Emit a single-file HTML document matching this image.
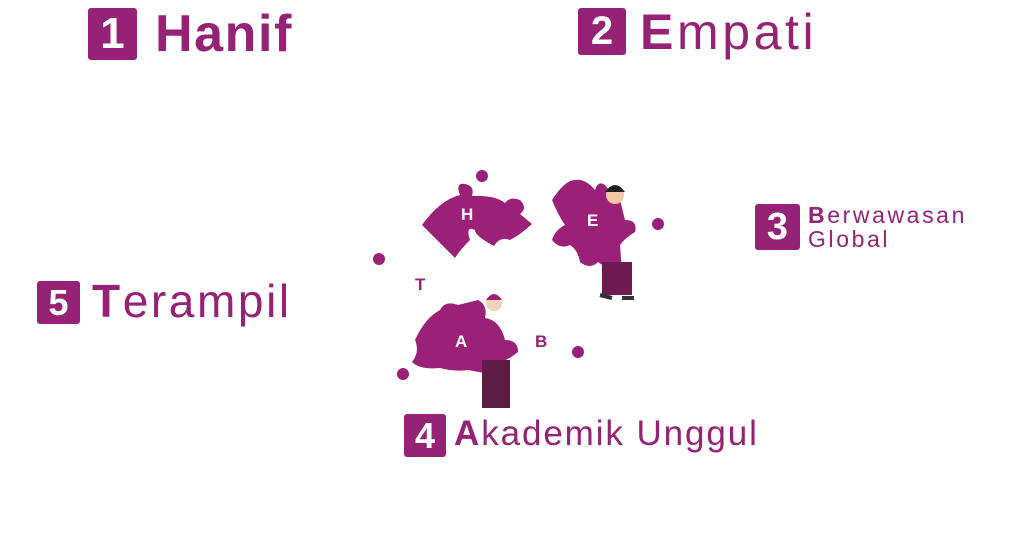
<!DOCTYPE html>
<html><head><meta charset="utf-8"><style>
body{margin:0;width:1024px;height:557px;background:#fff;position:relative;overflow:hidden;font-family:"Liberation Sans",sans-serif;color:#952274}
.b{position:absolute;background:#952274;color:#fff;font-weight:bold;text-align:center;border-radius:3px}
.t{position:absolute;white-space:nowrap;font-weight:bold}
.l{position:absolute;font-weight:bold;color:#fff}
</style></head><body>
<div class="b" style="left:88px;top:8px;width:49px;height:52px;font-size:44px;line-height:52px">1</div>
<div class="t" style="left:155px;top:4px;font-size:52px;line-height:60px;letter-spacing:1.6px">Hanif</div>
<div class="b" style="left:578px;top:8px;width:48px;height:47px;font-size:40px;line-height:47px">2</div>
<div class="t" style="left:640px;top:2px;font-size:50px;line-height:60px;letter-spacing:3.6px"><span>E</span><span style="font-weight:normal">mpati</span></div>
<div class="b" style="left:755px;top:204px;width:45px;height:46px;font-size:38px;line-height:46px">3</div>
<div class="t" style="left:808px;top:203px;font-size:23px;line-height:24px;letter-spacing:2.6px">B<span style="font-weight:normal">erwawasan</span><br><span style="font-weight:normal">Global</span></div>
<div class="b" style="left:37px;top:281px;width:43px;height:43px;font-size:36px;line-height:43px">5</div>
<div class="t" style="left:92px;top:274px;font-size:46px;line-height:54px;letter-spacing:2.6px">T<span style="font-weight:normal">erampil</span></div>
<div class="b" style="left:404px;top:414px;width:42px;height:43px;font-size:36px;line-height:43px">4</div>
<div class="t" style="left:454px;top:412px;font-size:35px;line-height:44px;letter-spacing:1.9px">A<span style="font-weight:normal">kademik Unggul</span></div>
<svg style="position:absolute;left:0;top:0" width="1024" height="557">
<g fill="#9b2077">
<circle cx="482" cy="176" r="6"/><circle cx="379" cy="259" r="6"/><circle cx="658" cy="224" r="6"/><circle cx="578" cy="352" r="6"/><circle cx="403" cy="374" r="6"/>
<path d="M422 225 Q440 200 460 195 Q455 182 465 184 Q475 186 472 196 Q495 195 505 203 Q510 196 520 200 Q528 208 520 214 L532 224 Q520 235 510 240 Q500 236 494 246 Q475 236 475 230 Q465 225 470 240 Q460 250 455 258 Z"/>
<path d="M552 200 Q565 180 575 180 Q585 178 595 190 Q598 180 605 185 Q612 195 620 200 L625 220 Q638 220 635 232 Q625 238 620 245 L622 272 Q605 268 598 262 Q590 270 580 262 Q578 250 570 245 Q560 250 552 240 Q555 230 565 225 Q558 215 552 200 Z"/>
<path d="M415 340 Q425 318 440 310 Q445 300 458 305 L478 300 Q488 305 485 318 Q500 320 505 340 Q518 340 518 352 Q508 360 500 362 L495 375 L468 370 Q455 372 440 368 Q420 370 412 362 Q420 352 415 340 Z"/>
</g>
<path d="M602 262 L632 262 L632 295 L602 295 Z" fill="#6e1a52"/>
<circle cx="615" cy="195" r="9" fill="#f4c7a5"/><path d="M605 192 Q615 178 625 192 Z" fill="#222"/>
<path d="M600 295 L612 298 M622 298 L634 298" stroke="#333" stroke-width="4"/>
<circle cx="494" cy="303" r="8" fill="#f4d2b5"/><path d="M486 300 Q494 288 502 300 Z" fill="#9b2077"/>
<path d="M482 360 L510 360 L510 408 L482 408 Z" fill="#5e1d45"/>
<g fill="#fff" font-weight="bold" font-size="17" font-family="Liberation Sans,sans-serif">
<text x="461" y="220">H</text><text x="587" y="226">E</text><text x="455" y="347">A</text>
</g>
<g fill="#952274" font-weight="bold" font-size="17" font-family="Liberation Sans,sans-serif">
<text x="415" y="290">T</text><text x="535" y="347">B</text>
</g>
</svg>
</body></html>
